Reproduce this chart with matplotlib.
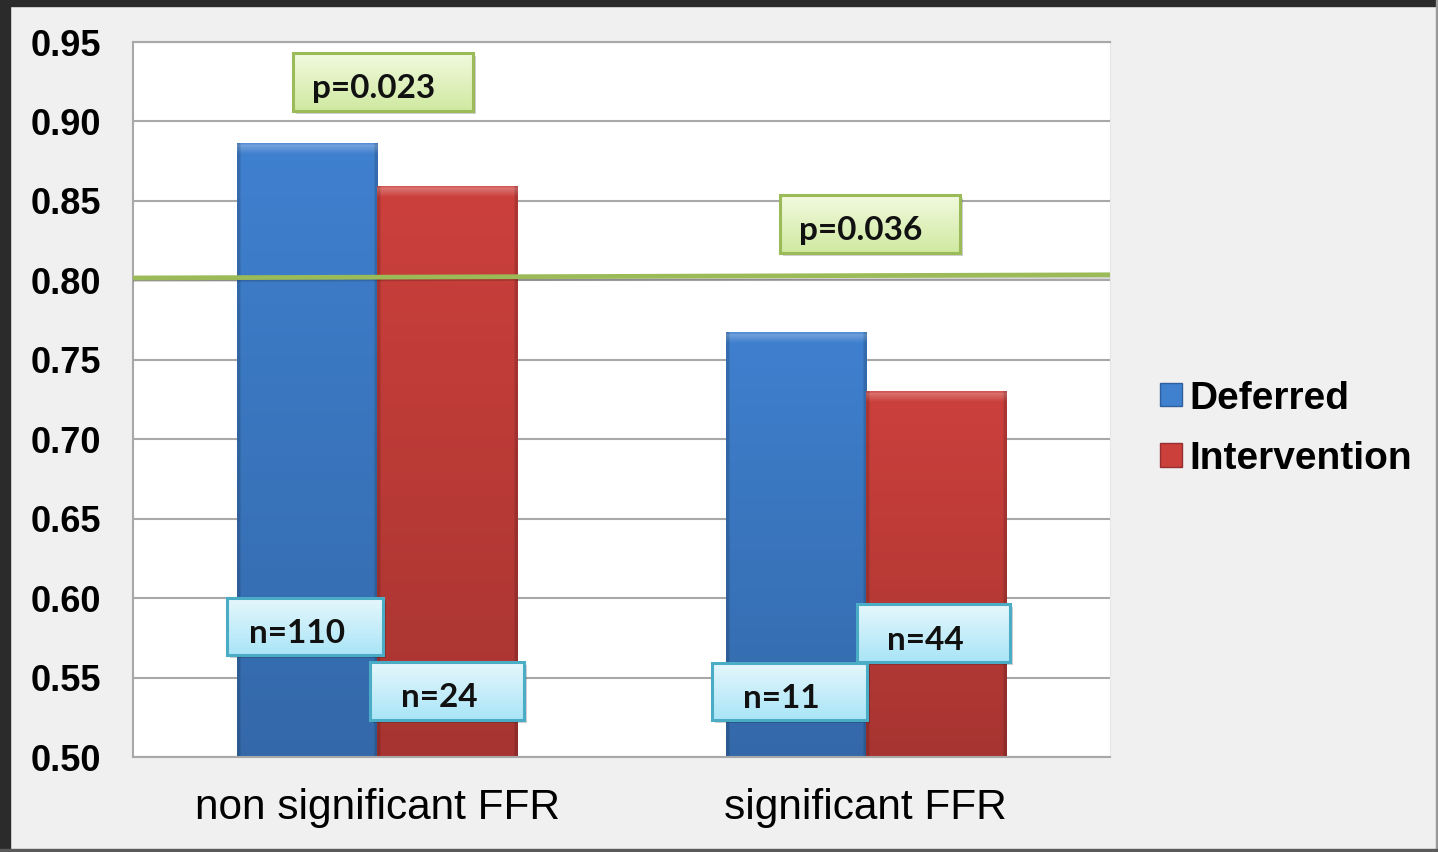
import numpy as np
import matplotlib
matplotlib.use("Agg")
import matplotlib.pyplot as plt
from matplotlib.colors import to_rgb
from matplotlib.patches import Rectangle, Patch

plt.rcParams['font.family'] = ['Liberation Sans', 'DejaVu Sans']

# mean FFR by group
categories = ["non significant FFR", "significant FFR"]
series = ["Deferred", "Intervention"]
deferred = [0.886, 0.767]
intervention = [0.859, 0.730]
deferred_n = [110, 11]
intervention_n = [24, 44]
p_values = ["0.023", "0.036"]
cutoff = [0.8015, 0.8035]  # 0.80 threshold line, left / right end
yticks = [0.50, 0.55, 0.60, 0.65, 0.70, 0.75, 0.80, 0.85, 0.90, 0.95]

# annotation box layout (x0, y0, w, h) in data units
p_boxes = [(-0.1725, 0.9066, 0.3685, 0.0365), (0.8245, 0.8172, 0.3685, 0.0365)]
nd_boxes = [(-0.3076, 0.5642, 0.3194, 0.0357), (0.6853, 0.5233, 0.3173, 0.0359)]
ni_boxes = [(-0.0149, 0.5233, 0.3153, 0.0365), (0.982, 0.5598, 0.313, 0.0364)]

blue = "#3f80cf"
red = "#cc403c"
width = 0.287
ymin, ymax = 0.50, 0.95

fig = plt.figure(figsize=(14.38, 8.52), dpi=100)
fig.patch.set_facecolor("#f0f0f0")
# dark frame round the slide
for x, y, w, h, c in [(0, 0.993, 1, 0.007, "#2b2b2b"), (0, 0, 0.007, 1, "#2b2b2b"),
                      (0.9985, 0, 0.0015, 1, "#9a9a9a"), (0, 0, 1, 0.003, "#5a5a5a")]:
    fig.add_artist(Rectangle((x, y), w, h, transform=fig.transFigure,
                             color=c, zorder=10))

ax = fig.add_axes([0.0925, 0.1115, 0.6794, 0.8392])
ax.set_facecolor("white")


def bar_gradient(ax, x0, w, y0, y1, color):
    c = np.array(to_rgb(color))
    rows, cols = 400, 80
    ys = np.linspace(y1, y0, rows)[:, None]
    t = (ys - y0) / (y1 - y0)
    img = np.ones((rows, cols, 3)) * c * (0.82 + 0.18 * t)[..., None]
    # bevelled top edge, fading out downwards
    d = (y1 - ys) / 0.0065
    glow = np.clip(1 - d, 0, 1) * 0.32
    glow = np.where(d < 0.12, 0.12, glow)
    img = img * (1 - glow[..., None]) + glow[..., None]
    # darker sides
    xs = np.linspace(0, 1, cols)[None, :]
    side = (xs < 0.025) | (xs > 0.975)
    img = np.where(side[..., None], img * 0.85, img)
    ax.imshow(np.clip(img, 0, 1), extent=(x0, x0 + w, y0, y1),
              aspect="auto", zorder=2, interpolation="bilinear")


def box_gradient(ax, box, top, bottom, edge, text):
    x0, y0, w, h = box
    ax.add_patch(Rectangle((x0 + 0.006, y0 - 0.002), w, h, color="#000000",
                           alpha=0.18, lw=0, zorder=4))
    t = np.linspace(0, 1, 100)[:, None, None]
    img = np.array(to_rgb(top)) * (1 - t) + np.array(to_rgb(bottom)) * t
    img = np.repeat(img, 4, axis=1)
    ax.imshow(img, extent=(x0, x0 + w, y0, y0 + h), aspect="auto", zorder=5)
    ax.add_patch(Rectangle((x0, y0), w, h, fill=False, ec=edge, lw=2.2, zorder=6))
    ax.text(x0 + w * 0.45, y0 + h * 0.38, text, ha="center", va="center",
            fontsize=24, fontfamily="Lato", fontweight="bold", color="#111111", zorder=7)


x = np.arange(len(categories))
b1 = ax.bar(x - width / 2, deferred, width, color=blue, zorder=2)
b2 = ax.bar(x + width / 2, intervention, width, color=red, zorder=2)
for bars, col in [(b1, blue), (b2, red)]:
    for r in bars:
        bar_gradient(ax, r.get_x(), r.get_width(), ymin, r.get_height(), col)

# FFR 0.80 cut-off
ax.plot([-0.5, 1.5], [v - 0.0013 for v in cutoff], color="#000000", alpha=0.15, lw=3, zorder=3)
ax.plot([-0.5, 1.5], cutoff, color="#9bbb59", lw=3.4, zorder=3, solid_capstyle="butt")

for box, p in zip(p_boxes, p_values):
    box_gradient(ax, box, "#f2fadf", "#cfe9a0", "#9bbb59", "p=" + p)
for box, n in zip(nd_boxes, deferred_n):
    box_gradient(ax, box, "#e6f7fc", "#a9e5f7", "#4bacc6", "n=%d" % n)
for box, n in zip(ni_boxes, intervention_n):
    box_gradient(ax, box, "#e6f7fc", "#a9e5f7", "#4bacc6", "n=%d" % n)

ax.set_xlim(-0.5, 1.5)
ax.set_ylim(ymin, ymax)
ax.set_yticks(yticks)
ax.set_yticklabels(["%.2f" % v for v in yticks], fontsize=26, fontweight="bold")
ax.set_xticks(x)
ax.set_xticklabels(categories, fontsize=30.5)
ax.tick_params(axis="y", length=0, pad=23)
ax.tick_params(axis="x", length=0, pad=22)
ax.yaxis.grid(True, color="#a8a8a8", lw=1.5, zorder=1)
ax.set_axisbelow(True)
for side in ["left", "bottom", "top"]:
    ax.spines[side].set_color("#a8a8a8")
    ax.spines[side].set_linewidth(1.5)
ax.spines["right"].set_color("#e6e6e6")

handles = [Patch(facecolor=blue, edgecolor="#2f5f9e"), Patch(facecolor=red, edgecolor="#963030")]
leg = fig.legend(handles, series, loc="center left", bbox_to_anchor=(0.7825, 0.497),
                 frameon=False, prop={"size": 28, "weight": "bold"},
                 handlelength=0.55, handleheight=0.55, handletextpad=0.2,
                 labelspacing=0.62)

fig.savefig("out.png", dpi=100, facecolor=fig.get_facecolor())
